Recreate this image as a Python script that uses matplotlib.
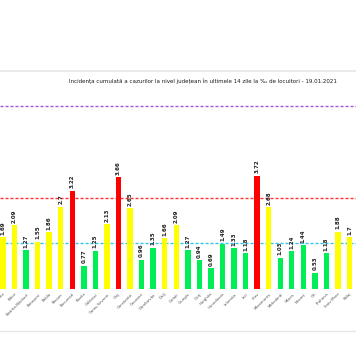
import matplotlib
matplotlib.use("Agg")
import matplotlib.pyplot as plt
from matplotlib.lines import Line2D

judete = ["Bacău", "Bihor", "Bistrița-Năsăud", "Botoșani", "Brăila", "Brașov",
          "București", "Buzău", "Călărași", "Caraș-Severin", "Cluj", "Constanța",
          "Covasna", "Dâmbovița", "Dolj", "Galați", "Giurgiu", "Gorj", "Harghita",
          "Hunedoara", "Ialomița", "Iași", "Ilfov", "Maramureș", "Mehedinți",
          "Mureș", "Neamț", "Olt", "Prahova", "Satu Mare", "Sălaj"]
incidenta = [1.69, 2.09, 1.27, 1.55, 1.86, 2.7, 3.22, 0.77, 1.25, 2.13, 3.66, 2.65,
             0.96, 1.35, 1.66, 2.09, 1.27, 0.94, 0.69, 1.49, 1.33, 1.18, 3.72, 2.68,
             1.03, 1.24, 1.44, 0.53, 1.18, 1.88, 1.7]
praguri = [1.5, 3, 6]
culori_praguri = ["#33c6ee", "#ff3333", "#a855d8"]


def culoare(v):
    if v > 3:
        return "#ff0000"
    if v > 1.5:
        return "#ffff00"
    return "#00ee55"


fig = plt.figure(figsize=(3.56, 3.64), dpi=100)
ax = fig.add_axes([0, 75 / 364, 1, 194 / 364])

x = list(range(len(judete)))
ax.bar(x, incidenta, width=0.47, color=[culoare(v) for v in incidenta], zorder=2)
for i, v in enumerate(incidenta):
    ax.text(i, v + 0.08, f"{v:g}", rotation=90, ha="center", va="bottom",
            fontsize=4.0, fontweight="bold", color="#222222", zorder=3)

for p, c in zip(praguri, culori_praguri):
    ax.axhline(p, color=c, lw=1.0, dashes=(2.2, 1.4), zorder=1)

ax.set_xlim(-0.26, 30.56)
ax.set_ylim(0, 194 / 30.5)
ax.set_xticks(x)
ax.set_xticklabels(judete, rotation=45, ha="right", rotation_mode="anchor",
                   fontsize=2.8, color="#555555")
ax.tick_params(axis="x", length=0, pad=2)
ax.set_yticks([])
for s in ax.spines.values():
    s.set_visible(False)

fig.text(203 / 356, 1 - 81 / 364,
         "Incidența cumulată a cazurilor la nivel județean în ultimele 14 zile la ‰ de locuitori - 19.01.2021",
         ha="center", va="center", fontsize=4.0, color="#1a1a1a")

fig.add_artist(Line2D([0, 1], [1 - 70.5 / 364] * 2, color="#e6e6e6", lw=1.2))
fig.add_artist(Line2D([0, 1], [1 - 331 / 364] * 2, color="#e6e6e6", lw=1.0))

fig.savefig("out.png", dpi=100)
